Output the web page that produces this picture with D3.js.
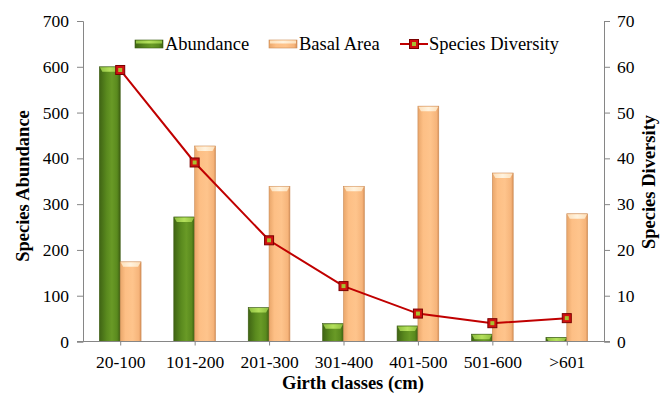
<!DOCTYPE html>
<html><head><meta charset="utf-8">
<script src="https://cdn.jsdelivr.net/npm/d3@7"></script>
<style>
body{margin:0;background:#fff}svg{display:block}
svg text{font-family:"Liberation Serif","Times New Roman",Times,serif !important;}
</style>
</head><body>
<svg id="c" width="660" height="399" font-family="Liberation Serif"></svg>
<script>
const categories = ["20-100","101-200","201-300","301-400","401-500","501-600",">601"];
const abundance = [600, 272, 74, 39, 34, 16, 9];
const basalArea = [174, 427, 339, 339, 514, 368, 279];
const diversity = [59.3, 39.1, 22.1, 12.1, 6.1, 4.0, 5.1];
const leftTicks = [0,100,200,300,400,500,600,700];
const rightTicks = [0,10,20,30,40,50,60,70];
const seriesNames = ["Abundance","Basal Area","Species Diversity"];

const svg = d3.select("#c");
const m = {l:83, r:604, t:21, b:341.5};
const x = d3.scaleBand().domain(categories).range([m.l, m.r]).paddingInner(0.44).paddingOuter(0.22);
const xc = d3.scalePoint().domain(categories).range([m.l, m.r]).padding(0.5);
const yL = d3.scaleLinear().domain([0,700]).range([m.b, m.t]);
const yR = d3.scaleLinear().domain([0,70]).range([m.b, m.t]);

const defs = svg.append("defs");
function hgrad(id, stops){
  const g = defs.append("linearGradient").attr("id",id).attr("x1","0").attr("x2","1").attr("y1","0").attr("y2","0");
  stops.forEach(s=>g.append("stop").attr("offset",s[0]).attr("stop-color",s[1]));
}
hgrad("gGreen", [[0,"#3f6414"],[0.35,"#5a8a1e"],[0.6,"#699a26"],[0.85,"#5a8a1e"],[1,"#3d5f12"]]);
hgrad("gOrange", [[0,"#e9a66a"],[0.25,"#fdbf85"],[0.6,"#fec48c"],[0.9,"#f6b47a"],[1,"#d89058"]]);
hgrad("gGreenTop", [[0,"#8fc040"],[0.5,"#b4e05c"],[1,"#8fc040"]]);
hgrad("gOrangeTop", [[0,"#fde0bb"],[0.5,"#fff3df"],[1,"#fde0bb"]]);

const bw = x.bandwidth()/2;
const gBars = svg.append("g");
function bars(data, off, fill, top, stroke){
  const g = gBars.append("g");
  g.selectAll("rect.b").data(data).join("rect")
    .attr("x",(d,i)=>x(categories[i])+off).attr("width",bw)
    .attr("y",d=>yL(d)).attr("height",d=>m.b-yL(d))
    .attr("fill",fill).attr("stroke",stroke).attr("stroke-width",0.6);
  g.selectAll("path.t").data(data).join("path")
    .attr("d",(d,i)=>{const x0=x(categories[i])+off, y0=yL(d); const h=Math.min(5, m.b-y0);
      return `M${x0+0.5},${y0+0.5}L${x0+bw-0.5},${y0+0.5}L${x0+bw-3},${y0+h}L${x0+3},${y0+h}Z`;})
    .attr("fill",top);
}
bars(abundance, 0, "url(#gGreen)", "url(#gGreenTop)", "#3b5a12");
bars(basalArea, bw, "url(#gOrange)", "url(#gOrangeTop)", "#c98a55");

// axes
const axisColor = "#868686";
const axL = svg.append("g").attr("transform",`translate(${m.l},0)`)
  .call(d3.axisLeft(yL).tickValues(leftTicks).tickSize(6).tickPadding(8));
const axR = svg.append("g").attr("transform",`translate(${m.r},0)`)
  .call(d3.axisRight(yR).tickValues(rightTicks).tickSize(6).tickPadding(7));
const axB = svg.append("g").attr("transform",`translate(0,${m.b})`)
  .call(d3.axisBottom(xc).tickSize(4).tickPadding(10).tickSizeOuter(0));
[axL,axR,axB].forEach(a=>{
  a.attr("font-family",null).attr("font-size",null);
  a.selectAll("path,line").attr("stroke",axisColor);
  a.selectAll("text").attr("fill","#000").style("font-size","17.5px");
});
axB.select("path.domain").attr("d",`M${m.l-6},0H${m.r+6}`);

// line
const line = d3.line().x((d,i)=>xc(categories[i])).y(d=>yR(d));
svg.append("path").datum(diversity).attr("d",line).attr("fill","none").attr("stroke","#c00000").attr("stroke-width",2);
function marker(sel){
  sel.append("rect").attr("x",-4.5).attr("y",-4.5).attr("width",9).attr("height",9).attr("fill","#d01010").attr("stroke","#7a0000").attr("stroke-width",1);
  sel.append("rect").attr("x",-2).attr("y",-2).attr("width",4).attr("height",4).attr("fill","#a8c030");
}
svg.selectAll("g.mk").data(diversity).join("g").attr("class","mk")
  .attr("transform",(d,i)=>`translate(${xc(categories[i])},${yR(d)})`).each(function(){marker(d3.select(this));});

// titles
svg.append("text").attr("x",353).attr("y",389).attr("text-anchor","middle")
  .style("font-size","18.5px").style("font-weight","bold").text("Girth classes (cm)");
svg.append("text").attr("transform","translate(29,186) rotate(-90)").attr("text-anchor","middle")
  .style("font-size","18.5px").style("font-weight","bold").text("Species Abundance");
svg.append("text").attr("transform","translate(655,182) rotate(-90)").attr("text-anchor","middle")
  .style("font-size","18.5px").style("font-weight","bold").text("Species Diversity");

// legend
const leg = svg.append("g");
const ly = 44;
function legSwatch(x0, fill, top, stroke){
  leg.append("rect").attr("x",x0).attr("y",ly-4).attr("width",28).attr("height",8).attr("fill",fill).attr("stroke",stroke).attr("stroke-width",0.6);
  leg.append("rect").attr("x",x0+1).attr("y",ly-3.5).attr("width",26).attr("height",3).attr("fill",top);
}
legSwatch(135, "url(#gGreen)", "url(#gGreenTop)", "#3b5a12");
legSwatch(269, "url(#gOrange)", "url(#gOrangeTop)", "#c98a55");
leg.append("line").attr("x1",400).attr("x2",428).attr("y1",ly).attr("y2",ly).attr("stroke","#c00000").attr("stroke-width",2);
marker(leg.append("g").attr("transform",`translate(414,${ly})`));
const lt = [[165,seriesNames[0]],[299,seriesNames[1]],[429,seriesNames[2]]];
lt.forEach(([xx,t])=>leg.append("text").attr("x",xx).attr("y",ly+6)
  .style("font-size","18.5px").attr("fill","#000").text(t));
</script>
</body></html>
